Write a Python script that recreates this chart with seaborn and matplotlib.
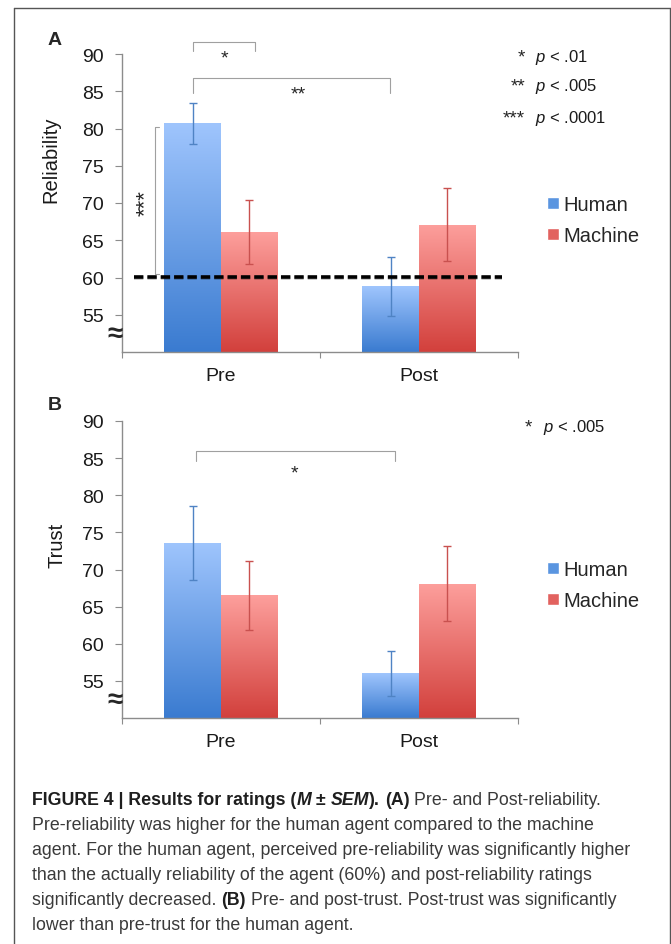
import numpy as np
import pandas as pd
import seaborn as sns
import matplotlib
matplotlib.use('Agg')
import matplotlib.pyplot as plt
from matplotlib.colors import LinearSegmentedColormap
from matplotlib.patches import Patch
from matplotlib.lines import Line2D
import matplotlib.patheffects as pe

# values (mean and SEM)
phases = ['Pre', 'Post']
agents = ['Human', 'Machine']

rel_human = [80.7, 58.8]
rel_machine = [66.1, 67.1]
rel_human_sem = [2.75, 3.95]
rel_machine_sem = [4.25, 4.85]

trust_human = [73.6, 56.0]
trust_machine = [66.5, 68.1]
trust_human_sem = [5.0, 3.0]
trust_machine_sem = [4.7, 5.0]

chance_level = 60.1
yticks = [55, 60, 65, 70, 75, 80, 85, 90]

sns.set_style('ticks')
plt.rcParams['font.family'] = ['Liberation Sans', 'DejaVu Sans']
plt.rcParams['mathtext.fontset'] = 'custom'
plt.rcParams['mathtext.rm'] = 'Liberation Sans'
plt.rcParams['mathtext.it'] = 'Liberation Sans:italic'

W, H = 671, 945
fig = plt.figure(figsize=(W / 100, H / 100), dpi=100)


def fx(px):
    return px / W


def fy(py):
    return 1 - py / H


grad_colors = [('#3a7bd0', '#9fc5fd'), ('#d2403c', '#fd9f9c')]
err_colors = ['#4f83c4', '#c9514f']
spine_col = '#8c8c8c'


def draw_panel(ax, human, machine, human_sem, machine_sem, ylabel, label_xy):
    df = pd.DataFrame({
        'phase': phases * 2,
        'agent': ['Human'] * 2 + ['Machine'] * 2,
        'value': human + machine,
    })
    sns.barplot(data=df, x='phase', y='value', hue='agent', order=phases,
                hue_order=agents, palette=['#5a92dc', '#e35f5b'], width=0.575,
                errorbar=None, legend=False, saturation=1, ax=ax)
    sems = [human_sem, machine_sem]
    grad = np.linspace(0, 1, 256).reshape(-1, 1)
    bar_conts = list(ax.containers)
    for i, cont in enumerate(bar_conts):
        cmap = LinearSegmentedColormap.from_list('g%d' % i, list(grad_colors[i]))
        for bar, err in zip(cont, sems[i]):
            x0, w, h = bar.get_x(), bar.get_width(), bar.get_height()
            im = ax.imshow(grad, extent=[x0, x0 + w, 50, h], origin='lower',
                           cmap=cmap, aspect='auto', zorder=2)
            im.set_clip_path(bar)
            ax.errorbar(x0 + w / 2, h, yerr=err, fmt='none', ecolor=err_colors[i],
                        elinewidth=1, capsize=3, capthick=1, zorder=4)

    ax.set_xlim(-0.5, 1.5)
    ax.set_ylim(50, 90)
    ax.set_yticks(yticks)
    ax.set_xticks([-0.5, 0.5, 1.5], minor=True)
    sns.despine(ax=ax)
    for s in ['left', 'bottom']:
        ax.spines[s].set_color(spine_col)
        ax.spines[s].set_linewidth(1)
    ax.tick_params(axis='y', length=5, width=0.8, color=spine_col,
                   labelsize=14, pad=8, labelcolor='#1a1a1a')
    ax.tick_params(axis='x', which='major', length=0, pad=11, labelsize=14,
                   labelcolor='#1a1a1a')
    ax.tick_params(axis='x', which='minor', length=4, width=0.8, color=spine_col)
    ax.set_xlabel('')
    ax.set_ylabel(ylabel, fontsize=14.5, color='#1a1a1a')
    ax.yaxis.set_label_coords(*label_xy)
    ax.yaxis.label.set_va('center')
    # axis break sign
    ax.text(-0.535, 52.4, '\u2248', fontsize=20, fontweight='bold',
            ha='center', va='center', clip_on=False)
    leg = ax.legend([Patch(facecolor='#5a95e0'), Patch(facecolor='#e2625f')], agents,
                    loc='center left', frameon=False, fontsize=14.5,
                    handlelength=0.6, handleheight=0.55, handletextpad=0.2,
                    labelspacing=0.6, borderpad=0, borderaxespad=0,
                    bbox_transform=fig.transFigure)
    return leg


def bracket(ax, x0, x1, ytop, ybot):
    ax.plot([x0, x0, x1, x1], [ybot, ytop, ytop, ybot], color='#a0a0a0',
            lw=0.8, clip_on=False)


# ---- panel A
axA = fig.add_axes([fx(122), fy(353), 396 / W, 298 / H])
legA = draw_panel(axA, rel_human, rel_machine, rel_human_sem, rel_machine_sem,
                  'Reliability', (-0.18, 0.648))
legA.set_bbox_to_anchor((fx(547), fy(221)), transform=fig.transFigure)

axA.plot([-0.44, 1.42], [chance_level, chance_level], color='black', lw=2.6,
         dashes=(2.6, 1.1), zorder=5,
         path_effects=[pe.SimpleLineShadow(offset=(0, -1), alpha=0.25), pe.Normal()])
bracket(axA, -0.14, 0.17, 91.6, 90.4)
axA.text(0.02, 88.9, '*', fontsize=14, ha='center', va='baseline')
bracket(axA, -0.14, 0.855, 86.75, 84.8)
axA.text(0.389, 84.0, '**', fontsize=14, ha='center', va='baseline')
axA.plot([-0.313, -0.333, -0.333, -0.313], [80.2, 80.2, 60.5, 60.5],
         color='#a0a0a0', lw=0.8, clip_on=False)
axA.text(-0.384, 70.1, '***', fontsize=16, rotation=90, ha='center', va='center')

fig.text(fx(55), fy(45), 'A', fontsize=14, fontweight='bold', ha='center', va='baseline')
for stars, p, base in [('*', '.01', 62), ('**', '.005', 91), ('***', '.0001', 123)]:
    fig.text(fx(525), fy(base), stars, fontsize=13.5, ha='right', va='baseline')
    fig.text(fx(535), fy(base), r'$\mathit{p}$ < ' + p, fontsize=12,
             ha='left', va='baseline', color='#1a1a1a')

# ---- panel B
axB = fig.add_axes([fx(122), fy(719), 396 / W, 297 / H])
legB = draw_panel(axB, trust_human, trust_machine, trust_human_sem, trust_machine_sem,
                  'Trust', (-0.165, 0.586))
legB.set_bbox_to_anchor((fx(547), fy(586)), transform=fig.transFigure)
bracket(axB, -0.126, 0.879, 85.9, 84.6)
axB.text(0.369, 82.4, '*', fontsize=14, ha='center', va='baseline')

fig.text(fx(55), fy(410), 'B', fontsize=14, fontweight='bold', ha='center', va='baseline')
fig.text(fx(532), fy(432), '*', fontsize=13.5, ha='right', va='baseline')
fig.text(fx(543), fy(432), r'$\mathit{p}$ < .005', fontsize=12, ha='left', va='baseline',
         color='#1a1a1a')

# ---- caption
renderer = fig.canvas.get_renderer()


def text_w(s, **kw):
    t = fig.text(0, 0, s, **kw)
    w = t.get_window_extent(renderer).width
    t.remove()
    return w


line3 = 'agent. For the human agent, perceived pre-reliability was significantly higher'
cap_size = 10 * 603 / text_w(line3, fontsize=10)

B_, R_, BI = ('bold', 'normal'), ('normal', 'normal'), ('bold', 'italic')
caption = [
    [('FIGURE 4 | Results for ratings (', B_), ('M', BI), (' \u00b1 ', B_), ('SEM', BI),
     (').', B_), (' (A)', B_), (' Pre- and Post-reliability.', R_)],
    [('Pre-reliability was higher for the human agent compared to the machine', R_)],
    [(line3, R_)],
    [('than the actually reliability of the agent (60%) and post-reliability ratings', R_)],
    [('significantly decreased. ', R_), ('(B)', B_),
     (' Pre- and post-trust. Post-trust was significantly', R_)],
    [('lower than pre-trust for the human agent.', R_)],
]

for k, pieces in enumerate(caption):
    x = 32.0
    base = 805 + 25 * k
    for s, (wt, st) in pieces:
        kw = dict(fontsize=cap_size, fontweight=wt, fontstyle=st)
        sp = text_w('x x', **kw) - text_w('xx', **kw)
        lead = len(s) - len(s.lstrip(' '))
        trail = len(s) - len(s.rstrip(' '))
        x += lead * sp
        core = s.strip(' ')
        t = fig.text(fx(x), fy(base), core, va='baseline', ha='left',
                     color='#1e1e1e' if wt == 'bold' else '#3a3a3a', **kw)
        x += t.get_window_extent(renderer).width + trail * sp

# outer frame
frame = dict(color='#555555', lw=1.0)
fig.add_artist(Line2D([fx(14), fx(14)], [fy(9), 0], **frame))
fig.add_artist(Line2D([fx(14), fx(669.5)], [fy(9), fy(9)], **frame))
fig.add_artist(Line2D([fx(669.5), fx(669.5)], [fy(9), 0], **frame))

fig.savefig('out.png', dpi=100)
